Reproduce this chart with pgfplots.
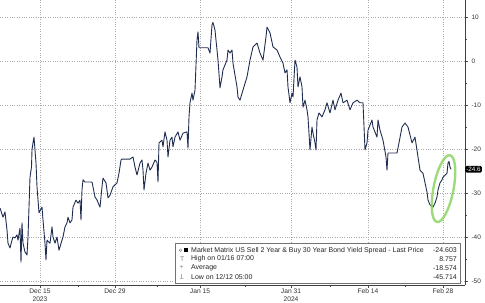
\documentclass[border=0pt]{standalone}
\usepackage{fontspec}
\setmainfont{Liberation Sans}
\usepackage{pgfplots}
\pgfplotsset{compat=1.18}
\definecolor{navyline}{RGB}{30,45,80}
\definecolor{glow}{RGB}{140,212,100}
\definecolor{gridc}{RGB}{170,170,170}
\pgfplotstableread{
x y
0 -33.4
3 -35.5
5 -34.3
7 -38.4
8 -41.4
10 -42.5
12 -40.7
13 -40.0
15 -40.2
17 -39.5
18 -40.7
20 -38.0
21 -45.7
22 -36.8
23 -41.4
25 -43.4
27 -44.1
28 -40.0
30 -26.4
31.5 -24.1
32 -20.2
33 -18.6
34 -17.3
35 -20.2
36 -23.2
37 -28.6
39 -34.5
42 -33.2
43 -36.1
45 -41.4
46 -45.2
47 -40.7
50 -41.4
52 -37.7
53 -40.0
55 -41.4
57 -40.0
59 -43.0
62 -40.7
63 -40.0
65 -37.7
67 -36.8
68 -35.5
70 -36.8
72 -36.1
73 -33.2
76 -31.6
78 -32.3
80 -31.6
81 -36.1
82 -29.3
83 -27.0
85 -27.5
92 -27.5
93 -28.6
95 -30.9
97 -31.6
100 -33.2
102 -28.6
103 -26.6
106 -27.7
108 -31.1
110 -30.5
113 -28.6
117 -27.7
119 -25.5
121 -22.5
122 -22.3
130 -22.3
133 -21.8
135 -24.1
137 -25.9
140 -23.2
142 -22.5
143 -24.8
144 -29.3
146 -25.5
148 -23.2
150 -24.8
152 -24.1
155 -22.5
157 -23.0
158 -27.5
159 -18.6
162 -18.0
163 -19.5
165 -16.1
167 -18.0
168 -21.8
170 -18.0
172 -17.3
173 -19.5
175 -17.3
178 -16.1
180 -18.0
183 -16.4
187 -16.1
188 -19.8
189 -12.7
190 -9.5
192 -7.3
193 -8.9
195 -6.6
197 4.8
198 6.6
199 3.0
208 3.0
210 1.8
212 8.2
213 8.76
215 7.0
217 2.5
218 0.2
220 -6.1
222 -3.6
223 -2.0
227 0.2
228 2.5
230 1.8
232 2.5
233 -0.5
237 -5.9
238 -8.2
240 -8.9
243 -6.6
247 -3.6
250 0.2
253 3.2
257 4.1
260 1.8
263 0.2
266 5.5
267 7.7
270 6.4
273 3.2
277 2.5
280 0.9
283 -0.5
285 -2.7
287 -2.0
288 -5.9
290 -9.5
292 -7.3
293 -8.2
295 0.2
297 -1.4
298 -5.9
300 -3.6
302 -5.9
303 -10.5
305 -8.9
307 -11.1
308 -12.7
310 -20.2
312 -15.0
313 -16.4
315 -18.6
316 -20.2
317 -13.4
319 -11.8
322 -12.7
325 -11.1
327 -9.5
330 -11.8
333 -8.9
335 -11.1
338 -8.9
341 -7.3
343 -9.5
347 -8.9
350 -11.1
353 -9.5
357 -8.9
360 -9.5
363 -9.5
365 -20.2
367 -18.6
368 -15.7
372 -13.4
373 -15.0
377 -17.3
378 -13.4
380 -15.7
383 -18.0
386 -21.8
387 -24.8
388 -20.9
397 -20.9
399 -18.6
402 -15.0
405 -14.1
408 -15.0
412 -18.6
415 -17.3
420 -24.8
423 -25.5
427 -29.8
428 -31.6
430 -32.7
433 -33.2
435 -32.3
437 -30.9
438 -29.3
440 -27.7
442 -27.0
443 -26.4
447 -25.5
448 -23.2
449 -22.8
450 -24.1
451 -24.6
}\spread
\begin{document}
\begin{tikzpicture}
\useasboundingbox (0,0) rectangle (485bp,303bp);
\begin{axis}[
  at={(0bp,18bp)}, anchor=south west,
  scale only axis, width=465bp, height=285bp,
  xmin=0, xmax=465, ymin=-50.9, ymax=13.86,
  clip=false,
  axis x line*=bottom, axis y line*=right,
  axis line style={black!75, line width=0.5pt},
  xtick={40,115,200,291,368,443},
  xticklabels={{Dec 15\\2023},{Dec 29},{Jan 15},{Jan 31\\2024},{Feb 14},{Feb 28}},
  xticklabel style={align=center, font=\fontsize{6.7}{7.5}\selectfont, text=black!80, yshift=2.5bp},
  minor xtick={78,157,245,330,405},
  ytick={-50,-40,-30,-20,-10,0,10},
  yticklabels={-50,-40,-30,-20,-10,0,10},
  minor ytick={-45,-35,-25,-15,-5,5},
  yticklabel style={font=\fontsize{6.5}{7.5}\selectfont, text=black!80},
  tick align=outside,
  major tick length=3bp, minor tick length=2bp,
  tick style={black!70, line width=0.4pt},
  grid=major,
  major grid style={gridc, dotted, line width=0.5pt},
]
\addplot[navyline, line width=0.9pt, line join=round] table[x=x,y=y] {\spread};
\draw[glow, line width=2.4pt, opacity=0.85, rotate around={-11:(axis cs:443.5,-29.0)}] (axis cs:443.5,-29.0) ellipse [x radius=10bp, y radius=34bp];
\node[fill=black, text=white, rounded corners=1.5bp, anchor=west, inner sep=1.2bp,
  font=\fontsize{6.3}{7}\selectfont] at (axis cs:465,-24.603) {-24.6};
\draw[black!55, fill=white, line width=0.5pt] (axis cs:175,-50.45) rectangle (axis cs:460,-41.36);
\fill[black] (axis cs:184,-42.5) rectangle (axis cs:188,-43.5);
\draw[black!50, line width=0.4pt] (axis cs:180.5,-43.0) circle (1.3bp);
\node[anchor=west, inner sep=0pt, font=\fontsize{6.8}{7}\selectfont, text=black!50] at (axis cs:180,-45.0) {T};
\node[anchor=west, inner sep=0pt, font=\fontsize{6.8}{7}\selectfont, text=black!50] at (axis cs:179.5,-47.0) {+};
\node[anchor=west, inner sep=0pt, font=\fontsize{6.8}{7}\selectfont, text=black!50, rotate=180] at (axis cs:184,-49.1) {T};
\node[anchor=west, inner sep=0pt, font=\fontsize{7}{7}\selectfont, text=black!85] at (axis cs:191,-43.0) {Market Matrix US Sell 2 Year \& Buy 30 Year Bond Yield Spread - Last Price};
\node[anchor=west, inner sep=0pt, font=\fontsize{7}{7}\selectfont, text=black!85] at (axis cs:191,-45.0) {High on 01/16 07:00};
\node[anchor=west, inner sep=0pt, font=\fontsize{7}{7}\selectfont, text=black!85] at (axis cs:191,-47.0) {Average};
\node[anchor=west, inner sep=0pt, font=\fontsize{7}{7}\selectfont, text=black!85] at (axis cs:191,-49.0) {Low on 12/12 05:00};
\node[anchor=east, inner sep=0pt, font=\fontsize{7}{7}\selectfont, text=black!85] at (axis cs:457,-43.0) {-24.603};
\node[anchor=east, inner sep=0pt, font=\fontsize{7}{7}\selectfont, text=black!85] at (axis cs:457,-45.0) {8.757};
\node[anchor=east, inner sep=0pt, font=\fontsize{7}{7}\selectfont, text=black!85] at (axis cs:457,-47.0) {-18.574};
\node[anchor=east, inner sep=0pt, font=\fontsize{7}{7}\selectfont, text=black!85] at (axis cs:457,-49.0) {-45.714};
\end{axis}
\end{tikzpicture}
\end{document}
